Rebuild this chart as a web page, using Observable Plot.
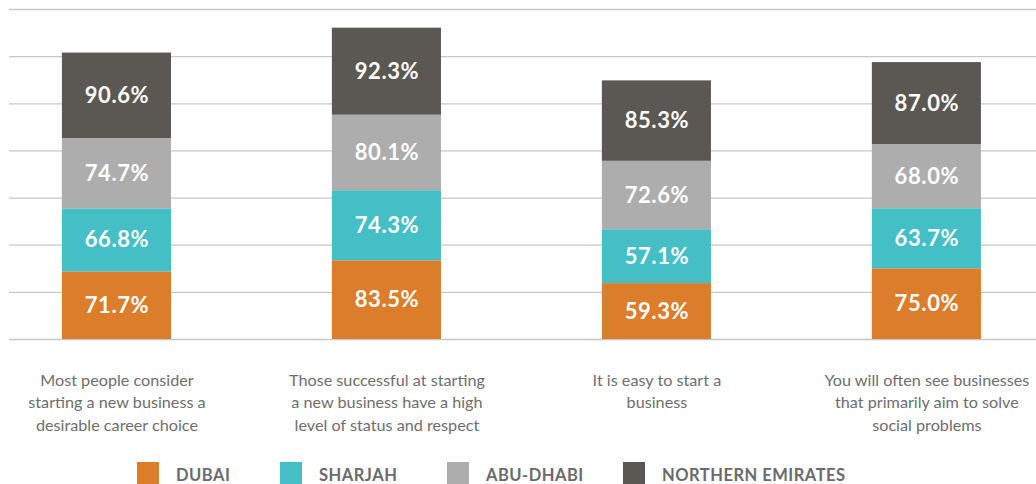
<!DOCTYPE html>
<html>
<head>
<meta charset="utf-8">
<script src="https://cdn.jsdelivr.net/npm/d3@7"></script>
<script src="https://cdn.jsdelivr.net/npm/@observablehq/plot@0.6"></script>
<style>
  html, body { margin: 0; padding: 0; background: #fff; overflow: hidden; }
  #chart svg { display: block; }
  #legend { position: relative; height: 22px; font-family: Lato, "Open Sans", sans-serif; }
  #legend .item { position: absolute; top: 0; display: flex; align-items: flex-start; }
  #legend .item:nth-child(1) { left: 137px; }
  #legend .item:nth-child(2) { left: 280px; }
  #legend .item:nth-child(3) { left: 447px; }
  #legend .item:nth-child(4) { left: 623px; }
  #legend .sw { width: 22px; height: 22px; margin-right: 17px; }
  #legend .lb { font-size: 16.5px; font-weight: 700; color: #6a6a6a; letter-spacing: 0.5px; line-height: 20px; padding-top: 3px; }
</style>
</head>
<body>
<div id="chart"></div>
<div id="legend"></div>
<script>
const categories = ["Most people consider\nstarting a new business a\ndesirable career choice",
  "Those successful at starting\na new business have a high\nlevel of status and respect",
  "It is easy to start a\nbusiness",
  "You will often see businesses\nthat primarily aim to solve\nsocial problems"];
const series = ["DUBAI", "SHARJAH", "ABU-DHABI", "NORTHERN EMIRATES"];
const colors = ["#DB7D2A", "#45BFC6", "#ADADAD", "#5B5753"];
const dubai = [71.7, 83.5, 59.3, 75.0];
const sharjah = [66.8, 74.3, 57.1, 63.7];
const abuDhabi = [74.7, 80.1, 72.6, 68.0];
const northern = [90.6, 92.3, 85.3, 87.0];
const gridTicks = [0, 50, 100, 150, 200, 250, 300, 350];

const valuesBySeries = [dubai, sharjah, abuDhabi, northern];
const data = [];
series.forEach((s, si) => {
  categories.forEach((c, ci) => data.push({category: c, series: s, value: valuesBySeries[si][ci]}));
});

const chart = Plot.plot({
  width: 1036,
  height: 462,
  marginTop: 9,
  marginBottom: 123,
  marginLeft: 9,
  marginRight: 0,
  style: {fontFamily: "Lato, 'Open Sans', sans-serif", background: "#fff"},
  x: {domain: categories, paddingInner: 0.596, paddingOuter: 0.2, align: 0.49, round: false, axis: null},
  y: {domain: [0, 350], axis: null},
  color: {domain: series, range: colors},
  marks: [
    Plot.ruleY(gridTicks, {stroke: "#c8c8c8", strokeWidth: 1.3}),
    Plot.barY(data, Plot.stackY({x: "category", y: "value", z: "series", fill: "series", order: null})),
    Plot.text(data, Plot.stackY({x: "category", y: "value", z: "series", order: null,
      text: d => d.value.toFixed(1) + "%", fill: "white", fontSize: 22, fontWeight: 700, className: "barlabel"})),
    Plot.axisX({tickSize: 0, tickPadding: 30, fontSize: 16.2, lineHeight: 1.39, fill: "#6e6e6e", lineAnchor: "top", label: null})
  ]
});
d3.select(chart).selectAll(".barlabel text").attr("letter-spacing", "0.6px");
document.getElementById("chart").appendChild(chart);

const legend = document.getElementById("legend");
series.forEach((s, i) => {
  const item = document.createElement("div");
  item.className = "item";
  item.innerHTML = `<div class="sw" style="background:${colors[i]}"></div><div class="lb">${s}</div>`;
  legend.appendChild(item);
});
</script>
</body>
</html>
